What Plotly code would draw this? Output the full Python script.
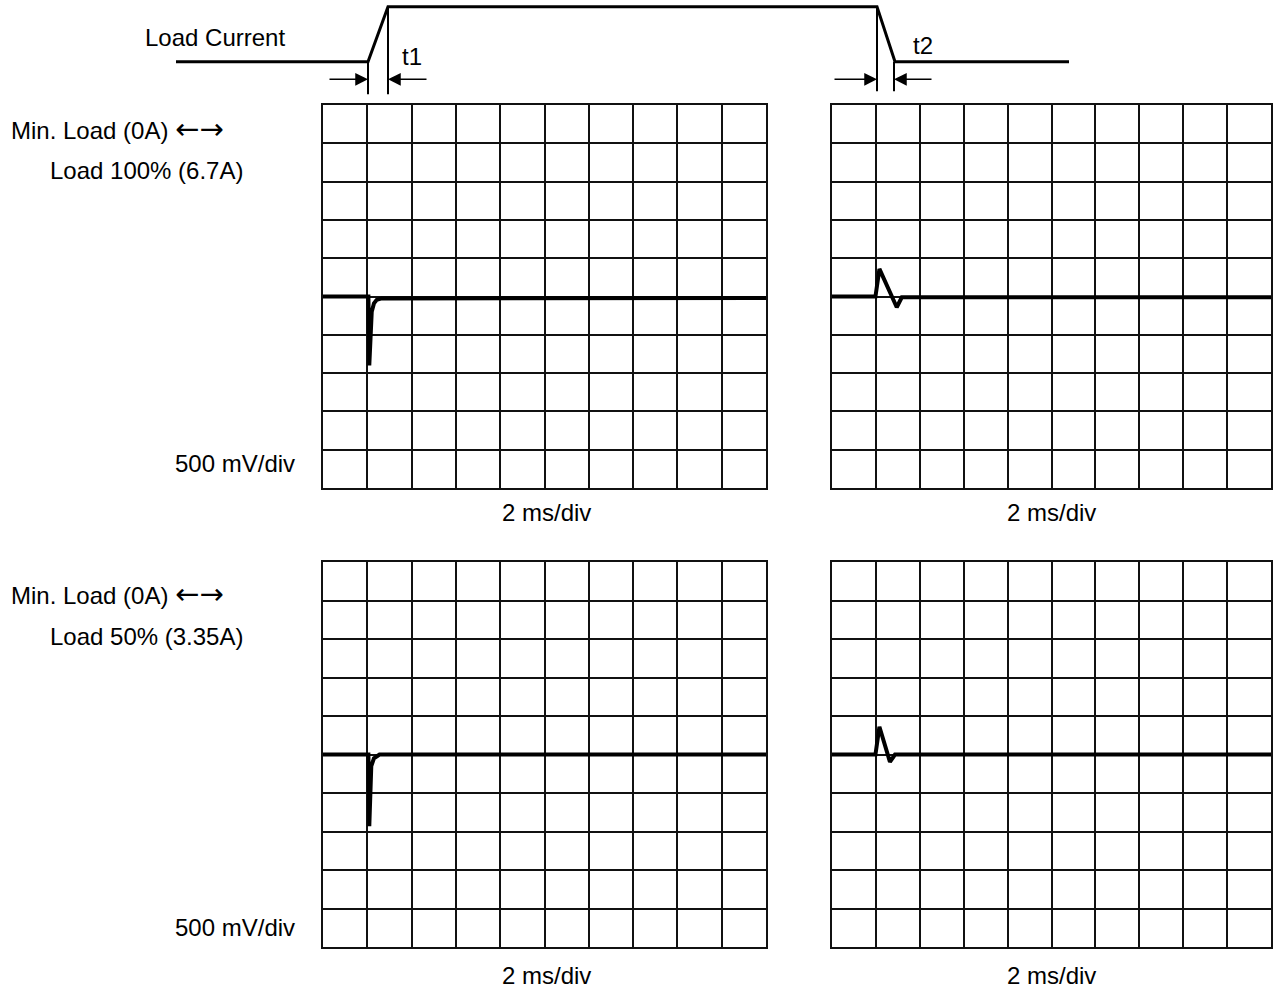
import plotly.graph_objects as go

W, H = 1273, 991

# ---------------- data (time in ms, voltage deviation in V) ----------------
# Top-left: Min load -> 100% load (step up, t1)
tl_t = [0, 2.05, 2.09, 2.14, 2.2, 2.3, 2.42, 2.65, 20]
tl_v = [0, 0, -0.9, -0.45, -0.2, -0.09, -0.045, -0.025, -0.02]
# Top-right: 100% load -> Min load (step down, t2)
tr_t = [0, 1.98, 2.16, 2.95, 3.18, 20]
tr_v = [0, 0, 0.36, -0.14, -0.01, -0.01]
# Bottom-left: Min load -> 50% load
bl_t = [0, 2.05, 2.09, 2.13, 2.18, 2.3, 2.55, 20]
bl_v = [0, 0, -0.93, -0.4, -0.15, -0.05, 0.0, 0.0]
# Bottom-right: 50% load -> Min load
br_t = [0, 1.98, 2.16, 2.64, 2.87, 20]
br_v = [0, 0, 0.36, -0.095, 0.0, 0.0]

# Load-current schematic (diagram units: x along page, level 0 = min, 1 = max)
load_x = [176, 368, 388, 877, 895, 1069]
load_level = [0, 0, 1, 1, 0, 0]
# dimension marker verticals (x, top level, bottom level)
mark_x = [368, 388, 877, 894]
mark_top = [0, 1, 1, 0]
mark_bot = [-0.59, -0.59, -0.535, -0.535]
# dimension arrows: (tail x, tip x)
arrow_tail = [328, 428, 833, 933]
arrow_tip = [368, 388, 877, 894]
arrow_level = -0.32

FONT = "Liberation Sans, Arial, Helvetica, sans-serif"
ARROWS = '<span style="font-family:DejaVu Sans;font-size:29px">←→</span>'

fig = go.Figure()

panels = [
    (tl_t, tl_v, "x", "y"),
    (tr_t, tr_v, "x2", "y2"),
    (bl_t, bl_v, "x3", "y3"),
    (br_t, br_v, "x4", "y4"),
]
for t, v, xa, ya in panels:
    fig.add_trace(go.Scatter(x=t, y=v, xaxis=xa, yaxis=ya, mode="lines",
                             line=dict(color="black", width=4),
                             hoverinfo="skip", showlegend=False))

# schematic
fig.add_trace(go.Scatter(x=load_x, y=load_level, xaxis="x5", yaxis="y5",
                         mode="lines", line=dict(color="black", width=3),
                         hoverinfo="skip", showlegend=False, cliponaxis=False))
for mx, mt, mb in zip(mark_x, mark_top, mark_bot):
    fig.add_trace(go.Scatter(x=[mx, mx], y=[mt, mb], xaxis="x5", yaxis="y5",
                             mode="lines", line=dict(color="black", width=2),
                             hoverinfo="skip", showlegend=False, cliponaxis=False))

def px2paper_x(px):
    return px / W

def px2paper_y(py):
    return 1 - py / H

grid_ax = dict(showgrid=True, gridcolor="#111111", gridwidth=2,
               showline=True, mirror=True, linecolor="#111111", linewidth=2,
               showticklabels=False, ticks="", zeroline=False, fixedrange=True)

xdom_left = [px2paper_x(323), px2paper_x(766)]
xdom_right = [px2paper_x(832), px2paper_x(1271)]
ydom_top = [px2paper_y(488), px2paper_y(105)]
ydom_bot = [px2paper_y(947), px2paper_y(562)]

layout = dict(
    width=W, height=H,
    margin=dict(l=0, r=0, t=0, b=0),
    paper_bgcolor="white", plot_bgcolor="white",
    showlegend=False,
    font=dict(family=FONT, size=24, color="black"),
)
for i, (xd, yd) in enumerate([(xdom_left, ydom_top), (xdom_right, ydom_top),
                              (xdom_left, ydom_bot), (xdom_right, ydom_bot)], start=1):
    sx = "" if i == 1 else str(i)
    layout["xaxis" + sx] = dict(domain=xd, range=[0, 20], tick0=0, dtick=2,
                                anchor="y" + sx, **grid_ax)
    layout["yaxis" + sx] = dict(domain=yd, range=[-2.5, 2.5], tick0=0, dtick=0.5,
                                anchor="x" + sx, **grid_ax)

layout["xaxis5"] = dict(domain=[0, 1], range=[0, W], visible=False, anchor="y5", fixedrange=True)
layout["yaxis5"] = dict(domain=[px2paper_y(100), 1], range=[-0.696, 1.122],
                        visible=False, anchor="x5", fixedrange=True)

annotations = []
for tail, tip in zip(arrow_tail, arrow_tip):
    annotations.append(dict(x=tip, y=arrow_level, ax=tail, ay=arrow_level,
                            xref="x5", yref="y5", axref="x5", ayref="y5",
                            text="", showarrow=True, arrowhead=2, arrowsize=1.7,
                            arrowwidth=1.5, arrowcolor="black", standoff=0))

def txt(s, x, y, xanchor="left"):
    annotations.append(dict(text=s, x=px2paper_x(x), y=px2paper_y(y),
                            xref="paper", yref="paper", xanchor=xanchor,
                            yanchor="middle", showarrow=False,
                            font=dict(family=FONT, size=24, color="black")))

txt("Load Current", 143, 37)
txt("t1", 400, 56)
txt("t2", 911, 46)
txt("Min. Load (0A) " + ARROWS, 9, 129)
txt("Load 100% (6.7A)", 48, 171)
txt("500 mV/div", 297, 463, "right")
txt("2 ms/div", 546.7, 512, "center")
txt("2 ms/div", 1051, 512, "center")
txt("Min. Load (0A) " + ARROWS, 9, 594)
txt("Load 50% (3.35A)", 48, 636)
txt("500 mV/div", 297, 927, "right")
txt("2 ms/div", 546.7, 975, "center")
txt("2 ms/div", 1051, 975, "center")

layout["annotations"] = annotations
fig.update_layout(**layout)
fig.write_html("out.html", config={"displayModeBar": False},
               post_script="document.body.style.margin='0px';document.body.style.overflow='hidden';")
